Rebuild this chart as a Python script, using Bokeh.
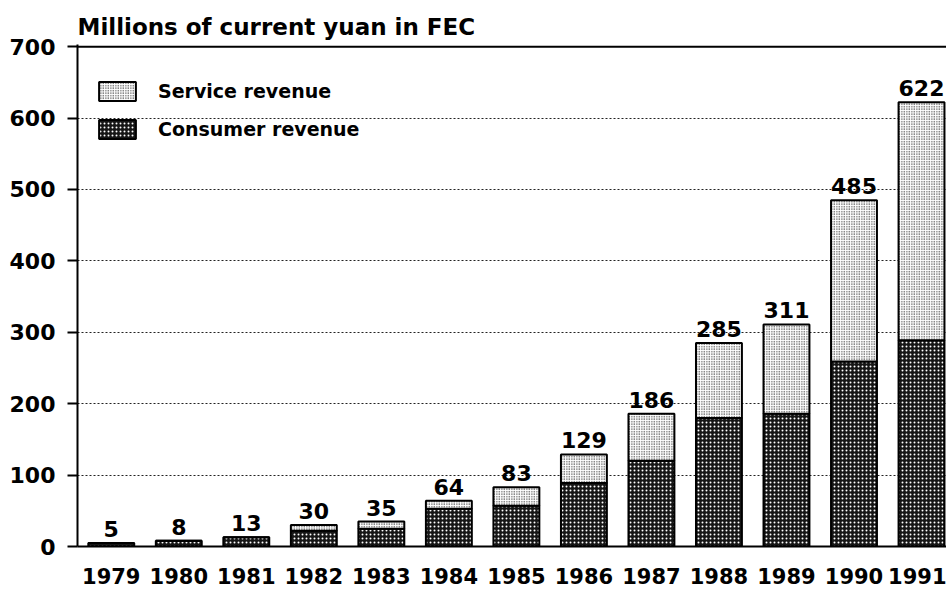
from bokeh.plotting import figure
from bokeh.models import Range1d, FixedTicker, Span, Legend, LegendItem, ColumnDataSource
from bokeh.core.properties import value
from bokeh.embed import file_html
from bokeh.resources import INLINE

years = ["1979", "1980", "1981", "1982", "1983", "1984", "1985", "1986",
         "1987", "1988", "1989", "1990", "1991"]
consumer = [5, 8, 13, 22, 25, 53, 57, 89, 120, 180, 186, 259, 289]
service = [0, 0, 0, 8, 10, 11, 26, 40, 66, 105, 125, 226, 333]
totals = [5, 8, 13, 30, 35, 64, 83, 129, 186, 285, 311, 485, 622]
y_ticks = [0, 100, 200, 300, 400, 500, 600, 700]
title_text = "Millions of current yuan in FEC"

FONT = "DejaVu Sans"
idx = list(range(len(years)))

src = ColumnDataSource(dict(x=idx, consumer=consumer, service=service,
                            total=totals, label=[str(t) for t in totals]))

p = figure(width=946, height=589, output_backend="svg", toolbar_location=None,
           x_range=Range1d(-0.5, 12.37), y_range=Range1d(0, 703),
           min_border_left=77, min_border_right=0, min_border_top=44,
           min_border_bottom=43)
p.outline_line_color = None
p.background_fill_color = "white"
p.border_fill_color = "white"

p.title.text = title_text
p.title.text_font = FONT
p.title.text_font_size = "23px"
p.title.text_font_style = "bold"
p.title.text_color = "black"
p.title.align = "left"
p.title.standoff = 10

r = p.vbar_stack(["consumer", "service"], x="x", width=0.68, source=src,
                 line_color="black", line_width=2,
                 fill_color=["#161616", "white"],
                 hatch_pattern=["dot", "dot"],
                 hatch_color=["white", "black"],
                 hatch_scale=[4, 2.5], hatch_weight=[1, 1.5])

p.text(x="x", y="total", text="label", source=src, text_align="center",
       text_baseline="bottom", y_offset=-6, text_font=value(FONT),
       text_font_size="22px", text_font_style="bold", text_color="black")

p.add_layout(Span(location=700, dimension="width", line_color="black", line_width=2))

# axes
p.xaxis.ticker = FixedTicker(ticks=idx)
p.xaxis.major_label_overrides = {i: y for i, y in zip(idx, years)}
p.xaxis.major_tick_out = 0
p.xaxis.major_tick_in = 0
p.xaxis.minor_tick_out = 0
p.xaxis.minor_tick_in = 0
p.xaxis.axis_line_width = 2
p.xaxis.axis_line_color = "black"
p.xaxis.major_label_standoff = 21
p.xaxis.major_label_text_font = FONT
p.xaxis.major_label_text_font_size = "21px"
p.xaxis.major_label_text_font_style = "bold"
p.xaxis.major_label_text_color = "black"

p.yaxis.ticker = FixedTicker(ticks=y_ticks)
p.yaxis.major_tick_out = 10
p.yaxis.major_tick_in = 0
p.yaxis.major_tick_line_width = 2
p.yaxis.minor_tick_out = 0
p.yaxis.minor_tick_in = 0
p.yaxis.axis_line_width = 2
p.yaxis.axis_line_color = "black"
p.yaxis.major_label_standoff = 12
p.yaxis.major_label_text_font = FONT
p.yaxis.major_label_text_font_size = "22px"
p.yaxis.major_label_text_font_style = "bold"
p.yaxis.major_label_text_color = "black"

p.xgrid.grid_line_color = None
p.ygrid.ticker = FixedTicker(ticks=y_ticks[1:-1])
p.ygrid.grid_line_color = "#222222"
p.ygrid.grid_line_dash = "2 2"
p.ygrid.grid_line_width = 1

legend = Legend(items=[LegendItem(label="Service revenue", renderers=[r[1]]),
                       LegendItem(label="Consumer revenue", renderers=[r[0]])],
                location=(17, 405), padding=0, margin=0, spacing=14,
                glyph_width=46, glyph_height=24, label_standoff=18,
                label_text_font=FONT, label_text_font_size="19px",
                label_text_font_style="bold", label_text_color="black",
                background_fill_alpha=0, border_line_color=None)
p.add_layout(legend)

open("out.html", "w").write(file_html(p, INLINE))
